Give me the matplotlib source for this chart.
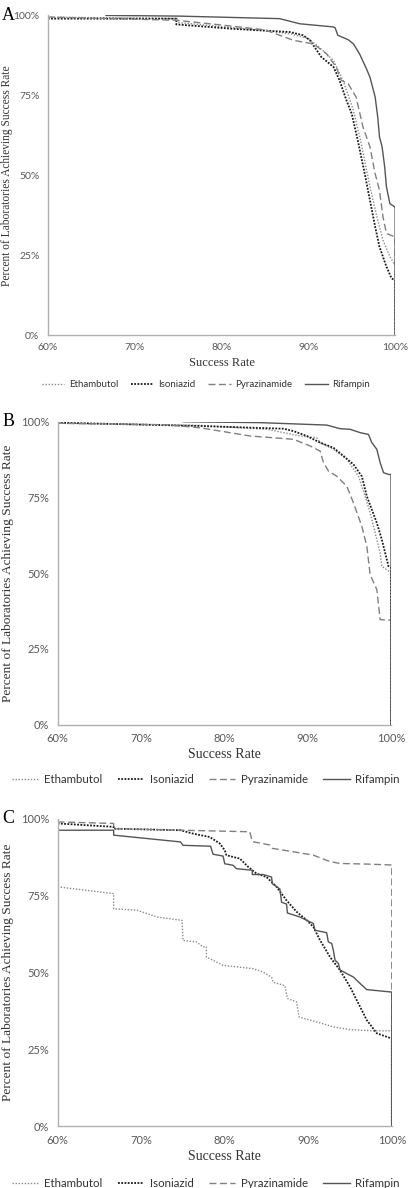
import numpy as np
import matplotlib
matplotlib.use("Agg")
import matplotlib.pyplot as plt
from matplotlib.ticker import FuncFormatter

drugs = ["Ethambutol", "Isoniazid", "Pyrazinamide", "Rifampin"]
x_ticks = [60, 70, 80, 90, 100]
y_ticks = [0, 25, 50, 75, 100]

# Panel A
a_emb_x = [60, 75, 75, 80, 85, 88, 90, 91.5, 92.9, 94.0, 95.2, 96.1, 97.1, 97.9, 98.6, 99.4, 99.96, 100, 100]
a_emb_y = [99.5, 99.0, 97.8, 96.5, 95.3, 94.2, 92.8, 89.5, 85.9, 79.7, 70.3, 59.9, 46.4, 37.0, 29.7, 24.5, 21.9, 21.9, 0]
a_inh_x = [60, 74.8, 74.8, 81.4, 87.9, 89.4, 90.2, 91.5, 92.9, 93.6, 94.4, 95.0, 95.7, 96.5, 97.1, 97.7, 98.2, 99.0, 99.6, 99.96, 100, 100]
a_inh_y = [99.0, 99.0, 97.2, 95.8, 94.8, 93.8, 92.2, 87.0, 83.9, 79.7, 73.4, 69.3, 60.9, 50.5, 42.2, 33.9, 27.6, 21.4, 17.7, 17.2, 17.2, 0]
a_pza_x = [60, 74.8, 80, 85, 88.3, 90.6, 92.1, 93.2, 93.8, 94.6, 95.5, 96.3, 97.1, 97.7, 98.2, 98.6, 99.0, 99.96, 100, 100]
a_pza_y = [99.5, 98.5, 97.0, 95.5, 92.2, 91.1, 88.0, 83.9, 79.7, 78.6, 74.5, 65.1, 58.9, 50.5, 45.3, 37.0, 31.8, 30.7, 30.7, 0]
a_rif_x = [66.7, 75, 86.7, 89.0, 92.9, 93.1, 93.4, 94.6, 95.2, 95.9, 96.7, 97.1, 97.7, 98.0, 98.2, 98.5, 98.8, 99.0, 99.4, 99.96, 100, 100]
a_rif_y = [100, 99.8, 99.0, 97.4, 96.4, 96.1, 93.8, 92.4, 91.1, 88.0, 83.3, 80.7, 74.5, 68.2, 62.0, 58.9, 52.6, 46.4, 41.1, 40.1, 40.1, 0]

# Panel B
b_emb_x = [60, 77, 85.1, 89.1, 91.1, 91.5, 93.1, 94.7, 96.1, 96.9, 97.5, 98.1, 98.7, 98.9, 99.7, 100, 100]
b_emb_y = [99.5, 98.8, 97.5, 95.3, 94.7, 93.1, 90.9, 87.6, 82.0, 75.4, 69.9, 63.3, 56.7, 52.3, 50.7, 50.4, 0]
b_inh_x = [60, 77, 87.1, 88.3, 89.9, 91.5, 93.1, 94.3, 95.5, 96.5, 97.1, 97.7, 98.3, 98.9, 99.3, 99.7, 100, 100]
b_inh_y = [99.7, 98.6, 97.7, 96.9, 95.3, 93.1, 91.4, 88.7, 85.9, 82.0, 75.4, 71.0, 66.6, 61.1, 56.7, 52.3, 51.8, 0]
b_pza_x = [60, 73, 77.1, 83.1, 88.3, 90.3, 91.5, 91.9, 92.5, 93.5, 94.7, 95.5, 96.5, 97.1, 97.5, 98.3, 98.7, 99.7, 100, 100]
b_pza_y = [99.5, 99.0, 98.0, 95.3, 94.2, 92.0, 90.3, 86.5, 83.7, 82.0, 78.7, 73.2, 65.5, 58.9, 49.5, 44.6, 34.7, 34.5, 34.5, 0]
b_rif_x = [75.1, 84.3, 92.3, 93.9, 95.1, 96.3, 97.3, 97.7, 98.3, 98.7, 99.1, 99.7, 100, 100]
b_rif_y = [100, 99.7, 98.9, 97.7, 97.5, 96.4, 95.8, 93.1, 90.9, 86.5, 83.2, 82.6, 82.6, 0]

# Panel C
c_emb_x = [60, 66.7, 66.7, 69.5, 71.9, 74.9, 75, 76.6, 77.4, 77.8, 77.8, 79.8, 83.4, 84.6, 85.6, 85.8, 87.2, 87.5, 88.6, 88.9, 91.0, 93.0, 95.0, 97.8, 100, 100]
c_emb_y = [77.8, 75.6, 70.7, 70.2, 68.0, 66.9, 60.4, 59.9, 58.3, 58.3, 55.0, 52.3, 51.2, 50.1, 48.4, 46.8, 45.7, 41.5, 40.4, 35.5, 33.9, 32.3, 31.4, 31.0, 31.0, 0]
c_inh_x = [60, 66.7, 66.7, 74.7, 76.2, 78.2, 79.4, 80.0, 80.2, 81.0, 81.8, 82.8, 83.8, 85.0, 86.2, 87.4, 88.6, 89.8, 90.6, 91.4, 92.6, 93.8, 95.0, 96.0, 97.0, 98.2, 100, 100]
c_inh_y = [98.4, 97.3, 96.7, 96.2, 95.1, 94.0, 91.9, 89.7, 88.1, 87.5, 87.0, 84.3, 82.1, 81.0, 77.8, 73.4, 69.7, 67.0, 64.8, 60.5, 55.0, 50.7, 45.3, 39.9, 34.5, 30.2, 28.5, 0]
c_pza_x = [60, 66.7, 66.7, 83.0, 83.3, 85.4, 85.7, 88.2, 90.6, 92.6, 93.8, 97.0, 100, 100]
c_pza_y = [98.9, 98.4, 96.7, 95.7, 92.5, 91.4, 90.3, 89.2, 88.1, 86.0, 85.4, 85.2, 84.9, 0]
c_rif_x = [60, 66.7, 66.7, 74.7, 75, 78.3, 78.6, 79.8, 80, 81.0, 81.4, 83.3, 83.3, 84.6, 85.6, 85.7, 86.6, 86.8, 87.4, 87.5,
           89.0, 90.6, 90.8, 92.2, 92.4, 92.8, 93.0, 93.2, 93.6, 93.8, 94.6, 95.4, 96.2, 97.0, 100, 100]
c_rif_y = [96.2, 96.2, 94.6, 92.4, 91.3, 91.0, 88.4, 87.8, 85.3, 84.8, 83.7, 83.2, 81.8, 81.8, 81.0, 78.8, 77.1, 72.8, 72.2, 69.3,
           68.0, 65.9, 63.7, 62.9, 59.9, 59.4, 57.2, 54.0, 52.9, 50.8, 49.6, 48.5, 46.4, 44.4, 43.6, 0]

panels = {
    "A": [(a_emb_x, a_emb_y), (a_inh_x, a_inh_y), (a_pza_x, a_pza_y), (a_rif_x, a_rif_y)],
    "B": [(b_emb_x, b_emb_y), (b_inh_x, b_inh_y), (b_pza_x, b_pza_y), (b_rif_x, b_rif_y)],
    "C": [(c_emb_x, c_emb_y), (c_inh_x, c_inh_y), (c_pza_x, c_pza_y), (c_rif_x, c_rif_y)],
}

# line look for each drug
styles = [
    dict(color="#8a8a8a", lw=1.0, ls=(0, (1, 1.2))),
    dict(color="#1a1a1a", lw=1.3, ls=(0, (1, 0.8))),
    dict(color="#808080", lw=1.0, ls=(0, (5, 2.5))),
    dict(color="#555555", lw=1.0, ls="-"),
]

# axes rectangles, label sizes, legend y (figure coords)
layout = {
    "A": dict(rect=[0.116, 0.718, 0.843, 0.269], ylab=8.3, xlab=9, tick=7.5, leg=7, leg_y=0.676, ylab_x=0.017),
    "B": dict(rect=[0.140, 0.390, 0.809, 0.255], ylab=9.6, xlab=10, tick=8, leg=8.3, leg_y=0.344, ylab_x=0.020),
    "C": dict(rect=[0.140, 0.052, 0.811, 0.259], ylab=9.6, xlab=10, tick=8, leg=8.3, leg_y=0.004, ylab_x=0.020),
}

plt.rcParams['font.family'] = ['Lato', 'DejaVu Sans']
fig = plt.figure(figsize=(4.12, 11.88), dpi=100)

for key in ["A", "B", "C"]:
    lay = layout[key]
    ax = fig.add_axes(lay["rect"])
    for (xs, ys), name, st in zip(panels[key], drugs, styles):
        ax.plot(xs, ys, color=st["color"], lw=st["lw"], linestyle=st["ls"], label=name)
    ax.set_xlim(60, 100)
    ax.set_ylim(0, 100)
    ax.set_xticks(x_ticks)
    ax.set_yticks(y_ticks)
    ax.xaxis.set_major_formatter(FuncFormatter(lambda v, p: f"{v:.0f}%"))
    ax.yaxis.set_major_formatter(FuncFormatter(lambda v, p: f"{v:.0f}%"))
    ax.tick_params(length=0, labelsize=lay["tick"], colors="#595959", pad=6)
    for s in ["top", "right"]:
        ax.spines[s].set_visible(False)
    for s in ["left", "bottom"]:
        ax.spines[s].set_color("#b0b0b0")
        ax.spines[s].set_linewidth(1.0)
    ax.set_xlabel("Success Rate", family="Liberation Serif", fontsize=lay["xlab"], labelpad=3, color="#333333")
    fig.text(lay["ylab_x"], lay["rect"][1] + lay["rect"][3] / 2, "Percent of Laboratories Achieving Success Rate",
             rotation=90, ha="center", va="center", family="Liberation Serif", fontsize=lay["ylab"], color="#333333")
    fig.text(0.005, lay["rect"][1] + lay["rect"][3], key, family="Liberation Serif", fontsize=13,
             ha="left", va="center")
    ax.legend(loc="center", bbox_to_anchor=(0.5, lay["leg_y"]), bbox_transform=fig.transFigure,
              ncol=4, frameon=False, fontsize=lay["leg"], handlelength=2.3, columnspacing=1.3,
              handletextpad=0.5, labelcolor="#333333")

fig.savefig("out.png", dpi=100)
